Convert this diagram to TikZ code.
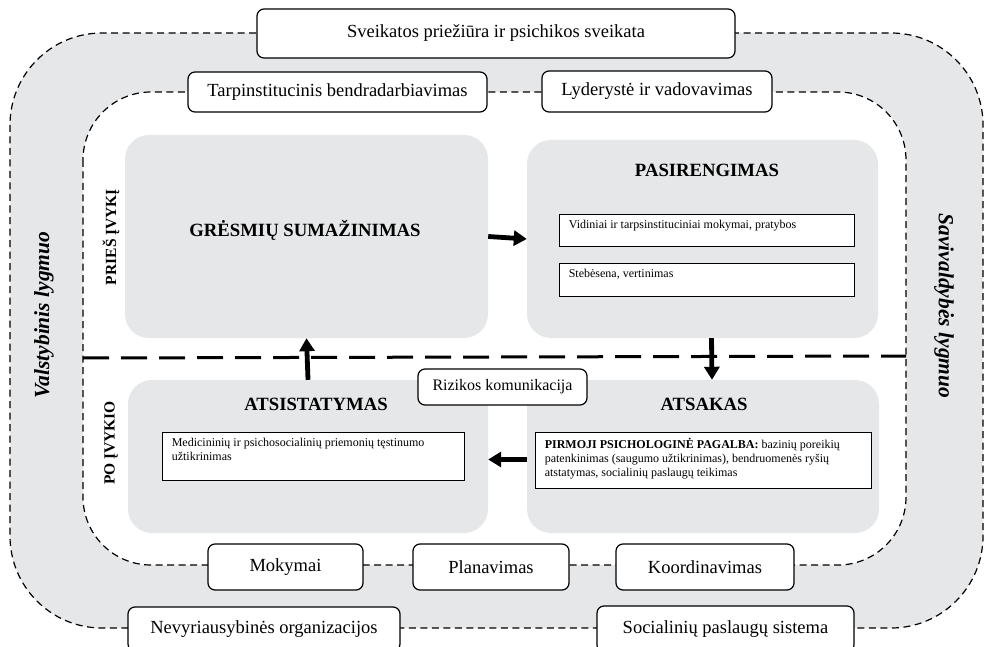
\documentclass[tikz,border=0pt]{standalone}
\usepackage{fontspec}
\setmainfont{Liberation Serif}
\usetikzlibrary{arrows.meta}
\definecolor{panel}{HTML}{E6E7E8}
\tikzset{
  ring/.style={line width=1.2pt, dash pattern=on 7pt off 4.5pt},
  labelbox/.style={draw, line width=1.2pt, rounded corners=7pt, fill=white, inner sep=0pt,
    font=\fontsize{18.5}{22}\selectfont},
  phase/.style={fill=panel, rounded corners=24pt, inner sep=0pt},
  phasetitle/.style={font=\fontsize{18.7}{22}\selectfont\bfseries},
  itembox/.style={draw, line width=0.8pt, fill=white, inner sep=0pt},
  itemtext/.style={anchor=north west, align=left, inner sep=0pt,
    font=\fontsize{12}{14}\selectfont},
  flow/.style={line width=4.8pt, -{Triangle[width=15pt,length=13pt]}},
  sidelabel/.style={font=\fontsize{21.5}{26}\selectfont\bfseries\itshape},
  stagelabel/.style={font=\fontsize{15.5}{18}\selectfont\bfseries},
}
\begin{document}
\begin{tikzpicture}[x=1pt,y=-1pt]
\useasboundingbox (0,0) rectangle (990,647);
\clip (0,0) rectangle (990,647);

% outer (national / municipal) ring and inner white field
\draw[ring, fill=panel, rounded corners=92pt] (10,33) rectangle (983,628);
\draw[ring, fill=white, rounded corners=68pt] (83,92) rectangle (906,565);

% before / after separator
\draw[line width=3pt, dash pattern=on 26pt off 12pt] (83,358) -- (906,356);

% phase panels
\node[phase, minimum width=363pt, minimum height=203pt] (gr) at (306.5,236.5) {};
\node[phase, minimum width=351pt, minimum height=198pt] (pas) at (702.5,239) {};
\node[phase, minimum width=360pt, minimum height=153pt] (atsist) at (308,456.5) {};
\node[phase, minimum width=352pt, minimum height=153pt] (ats) at (703,456.5) {};

\node[phasetitle] (grt) at (305,230) {GRĖSMIŲ SUMAŽINIMAS};
\node[phasetitle] (past) at (707,170) {PASIRENGIMAS};
\node[phasetitle] (atsistt) at (316,404) {ATSISTATYMAS};
\node[phasetitle] (atst) at (704,404) {ATSAKAS};

% items inside panels
\node[itembox, minimum width=295pt, minimum height=32pt] (vid) at (706.5,230) {};
\node[itemtext] at ([xshift=10pt,yshift=-6pt]vid.north west) {Vidiniai ir tarpsinstituciniai mokymai, pratybos};
\node[itembox, minimum width=295pt, minimum height=33pt] (steb) at (706.5,279.5) {};
\node[itemtext] at ([xshift=10pt,yshift=-6pt]steb.north west) {Stebėsena, vertinimas};
\node[itembox, minimum width=302pt, minimum height=48pt] (med) at (313,456) {};
\node[itemtext] at ([xshift=10pt,yshift=-6pt]med.north west) {Medicininių ir psichosocialinių priemonių tęstinumo\\užtikrinimas};
\node[itembox, minimum width=336pt, minimum height=56pt] (pirm) at (703,460) {};
\node[itemtext] at ([xshift=10pt,yshift=-6pt]pirm.north west) {\textbf{PIRMOJI PSICHOLOGINĖ PAGALBA:} bazinių poreikių\\patenkinimas (saugumo užtikrinimas), bendruomenės ryšių\\atstatymas, socialinių paslaugų teikimas};

% cycle arrows
\draw[flow] (gr.east) -- (pas.west);
\draw[flow] ([xshift=9pt]pas.south) -- ([xshift=9pt]ats.north);
\draw[flow] ([yshift=-3pt]ats.west) -- ([yshift=-3pt]atsist.east);
\draw[flow] (atsist.north) -- (gr.south);

% labels on the rings
\node[labelbox, minimum width=478pt, minimum height=49pt] (sv) at (496,33.5) {Sveikatos priežiūra ir psichikos sveikata};
\node[labelbox, minimum width=299pt, minimum height=40pt] (tb) at (337.5,92) {Tarpinstitucinis bendradarbiavimas};
\node[labelbox, minimum width=230pt, minimum height=41pt] (lv) at (657,91.5) {Lyderystė ir vadovavimas};
\node[labelbox, minimum width=169pt, minimum height=36pt, font=\fontsize{16}{19}\selectfont] (rk) at (502.5,387) {Rizikos komunikacija};
\node[labelbox, minimum width=155pt, minimum height=46pt] (mk) at (285.5,567) {Mokymai};
\node[labelbox, minimum width=156pt, minimum height=46pt] (pl) at (491,567) {Planavimas};
\node[labelbox, minimum width=178pt, minimum height=46pt] (ko) at (705,567) {Koordinavimas};
\node[labelbox, minimum width=272pt, minimum height=44pt] (no) at (264,629) {Nevyriausybinės organizacijos};
\node[labelbox, minimum width=257pt, minimum height=46pt] (sp) at (725.5,629) {Socialinių paslaugų sistema};

% side labels
\node[sidelabel, rotate=90] (vl) at (44,315) {Valstybinis lygmuo};
\node[sidelabel, rotate=-90] (sl) at (944,306) {Savivaldybės lygmuo};
\node[stagelabel, rotate=90] (pr) at (111,237) {PRIEŠ ĮVYKĮ};
\node[stagelabel, rotate=90] (po) at (111,443) {PO ĮVYKIO};
\end{tikzpicture}
\end{document}
